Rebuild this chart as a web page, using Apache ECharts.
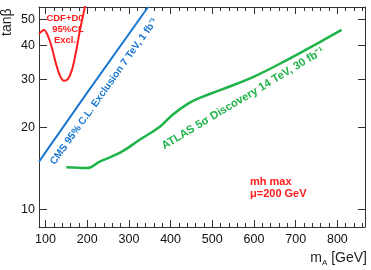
<!DOCTYPE html>
<html><head><meta charset="utf-8">
<script src="https://cdn.jsdelivr.net/npm/echarts@6/dist/echarts.min.js"></script>
<style>html,body{margin:0;padding:0;background:#fff}#c{width:371px;height:270px}</style>
</head><body><div id="c"></div>
<script>
// ---- data ----
const xMajorTicks = [100, 200, 300, 400, 500, 600, 700, 800];
const xMinorTicks = [100,120,140,160,180,200,220,240,260,280,300,320,340,360,380,400,420,440,460,480,500,520,540,560,580,600,620,640,660,680,700,720,740,760,780,800,820,840,860];
const yTicks = [10, 20, 30, 40, 50];
// CDF+D0 95% CL exclusion (mA, tanβ)
const cdfMA   = [84.4, 96.4, 106, 115.6, 125.2, 134.8, 144.4, 154, 163.5, 170.7, 176.5, 182.7, 188.7, 195];
const cdfTanB = [44.2, 45.7, 43.4, 39.2, 34.3, 31.0, 29.7, 30.2, 32.6, 36.4, 40.5, 45.7, 50.5, 56.0];
// CMS 95% CL exclusion 7 TeV, 1 fb-1
const cmsMA   = [84.4, 200, 346];
const cmsTanB = [15.0, 26.9, 55.5];
// ATLAS 5σ discovery 14 TeV, 30 fb-1
const atlasMA   = [150, 200, 230, 280, 325, 375, 405, 440, 470, 520, 600, 680, 760, 810];
const atlasTanB = [14.3, 14.2, 15.0, 16.2, 18.0, 20.2, 22.3, 24.4, 25.7, 27.5, 30.8, 35.5, 41.4, 45.7];

const zip = (a, b) => a.map((v, i) => [v, b[i]]);
const X_MIN = 84.4, X_MAX = 866.2, Y_MIN = 8.62, Y_MAX = 55.5;
const AX = '#333';
const FONT = "'Liberation Sans', Arial, sans-serif";
const mid = {align: 'center', verticalAlign: 'middle'};
const leftMid = {align: 'left', verticalAlign: 'middle'};

const chart = echarts.init(document.getElementById('c'), null, {renderer: 'canvas'});
const xBase = {type: 'value', min: X_MIN, max: X_MAX, splitLine: {show: false}};
chart.setOption({
  animation: false,
  backgroundColor: '#fff',
  grid: {left: 39, right: 6, top: 7, bottom: 43, containLabel: false},
  xAxis: [
    Object.assign({}, xBase, {position: 'bottom', axisLine: {show: true, lineStyle: {color: AX, width: 1}},
      axisTick: {show: true, inside: true, length: 7, lineStyle: {color: AX}, customValues: xMajorTicks},
      axisLabel: {show: true, customValues: xMajorTicks, margin: 6, color: '#111', fontSize: 12.5, fontFamily: FONT}}),
    Object.assign({}, xBase, {position: 'bottom', axisLine: {show: false},
      axisTick: {show: true, inside: true, length: 4, lineStyle: {color: AX}, customValues: xMinorTicks},
      axisLabel: {show: false}}),
    Object.assign({}, xBase, {position: 'top', axisLine: {show: true, lineStyle: {color: AX, width: 1}},
      axisTick: {show: true, inside: true, length: 7, lineStyle: {color: AX}, customValues: xMajorTicks},
      axisLabel: {show: false}}),
    Object.assign({}, xBase, {position: 'top', axisLine: {show: false},
      axisTick: {show: true, inside: true, length: 4, lineStyle: {color: AX}, customValues: xMinorTicks},
      axisLabel: {show: false}})
  ],
  yAxis: [
    {type: 'log', logBase: 10, min: Y_MIN, max: Y_MAX, position: 'left', splitLine: {show: false},
      axisLine: {show: true, lineStyle: {color: AX, width: 1}},
      axisTick: {show: true, inside: true, length: 8, lineStyle: {color: AX}, customValues: yTicks},
      axisLabel: {show: true, customValues: yTicks, margin: 4, color: '#111', fontSize: 12.5, fontFamily: FONT}},
    {type: 'log', logBase: 10, min: Y_MIN, max: Y_MAX, position: 'right', splitLine: {show: false},
      axisLine: {show: true, lineStyle: {color: AX, width: 1}},
      axisTick: {show: true, inside: true, length: 7, lineStyle: {color: AX}, customValues: yTicks},
      axisLabel: {show: false}}
  ],
  series: [
    {type: 'line', name: 'CDF+D0', data: zip(cdfMA, cdfTanB), smooth: 0.35, showSymbol: false, clip: true,
      lineStyle: {color: '#ff1c1c', width: 2}},
    {type: 'line', name: 'CMS', data: zip(cmsMA, cmsTanB), showSymbol: false, clip: true,
      lineStyle: {color: '#1a78d0', width: 2}},
    {type: 'line', name: 'ATLAS', data: zip(atlasMA, atlasTanB), smooth: 0.4, showSymbol: false, clip: true,
      lineStyle: {color: '#1fb44a', width: 2.5}}
  ],
  graphic: [
    {type: 'text', x: 7, y: 36, rotation: Math.PI / 2,
      style: Object.assign({text: 'tanβ', fill: '#222', font: "14px " + FONT}, leftMid)},
    {type: 'text', x: 367, y: 258,
      style: {text: '{m|m}{s|A}{m| [GeV]}', align: 'right', verticalAlign: 'middle',
        rich: {m: {fontSize: 14, fontFamily: FONT, fill: '#222', lineHeight: 18, verticalAlign: 'middle'},
               s: {fontSize: 8, fontFamily: FONT, fill: '#222', lineHeight: 10, verticalAlign: 'bottom'}}}},
    {type: 'text', x: 65, y: 18,
      style: Object.assign({text: 'CDF+D0', fill: '#ff1c1c', font: "bold 9.5px " + FONT}, mid)},
    {type: 'text', x: 68, y: 29.5,
      style: Object.assign({text: '95%CL', fill: '#ff1c1c', font: "bold 9.5px " + FONT}, mid)},
    {type: 'text', x: 65, y: 40,
      style: Object.assign({text: 'Excl.', fill: '#ff1c1c', font: "bold 9.5px " + FONT}, mid)},
    {type: 'text', x: 104, y: 91.5, rotation: 54.5 * Math.PI / 180,
      style: Object.assign({text: 'CMS 95% C.L. Exclusion 7 TeV, 1 fb⁻¹', fill: '#1a78d0', font: "bold 10.2px " + FONT}, mid)},
    {type: 'text', x: 243, y: 98.5, rotation: 31 * Math.PI / 180,
      style: Object.assign({text: 'ATLAS 5σ Discovery 14 TeV, 30 fb⁻¹', fill: '#1fb44a', font: "bold 11.2px " + FONT}, mid)},
    {type: 'text', x: 250, y: 182,
      style: Object.assign({text: 'mh max', fill: '#ff1c1c', font: "bold 11px " + FONT}, leftMid)},
    {type: 'text', x: 250, y: 193.5,
      style: Object.assign({text: 'μ=200 GeV', fill: '#ff1c1c', font: "bold 11px " + FONT}, leftMid)}
  ]
});
</script></body></html>
